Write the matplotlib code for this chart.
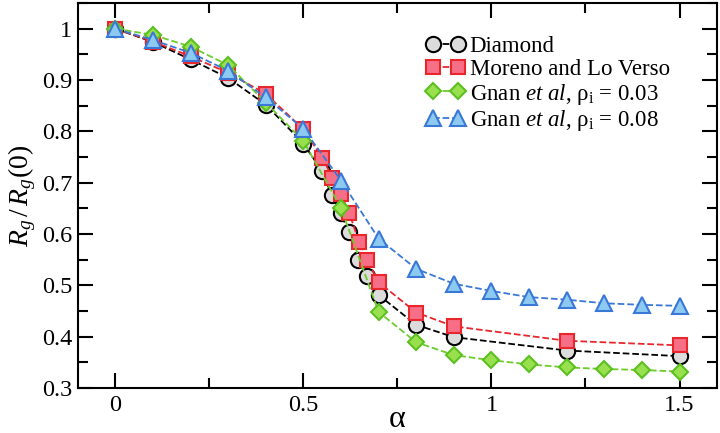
import matplotlib
matplotlib.use("Agg")
import matplotlib.pyplot as plt
from matplotlib.ticker import MultipleLocator, FuncFormatter

plt.rcParams["font.family"] = ["Liberation Serif", "DejaVu Serif"]
plt.rcParams["mathtext.fontset"] = "custom"
plt.rcParams["mathtext.rm"] = "Liberation Serif"
plt.rcParams["mathtext.it"] = "Liberation Serif:italic"

# ---- data ----
alpha_dia = [0, 0.1, 0.2, 0.3, 0.4, 0.5, 0.55, 0.575, 0.6, 0.62, 0.645, 0.67, 0.7, 0.8, 0.9, 1.2, 1.5]
rg_dia = [1.0, 0.974, 0.940, 0.904, 0.852, 0.776, 0.722, 0.676, 0.640, 0.603, 0.549, 0.519, 0.481, 0.423, 0.399, 0.373, 0.362]

alpha_mor = [0, 0.1, 0.2, 0.3, 0.4, 0.5, 0.55, 0.577, 0.6, 0.622, 0.648, 0.67, 0.7, 0.8, 0.9, 1.2, 1.5]
rg_mor = [1.0, 0.975, 0.946, 0.914, 0.873, 0.804, 0.749, 0.710, 0.677, 0.641, 0.584, 0.549, 0.506, 0.447, 0.420, 0.392, 0.383]

alpha_g03 = [0, 0.1, 0.2, 0.3, 0.4, 0.5, 0.6, 0.7, 0.8, 0.9, 1.0, 1.1, 1.2, 1.3, 1.4, 1.5]
rg_g03 = [1.0, 0.988, 0.965, 0.929, 0.856, 0.781, 0.651, 0.448, 0.389, 0.364, 0.354, 0.346, 0.340, 0.337, 0.335, 0.332]

alpha_g08 = [0, 0.1, 0.2, 0.3, 0.4, 0.5, 0.6, 0.7, 0.8, 0.9, 1.0, 1.1, 1.2, 1.3, 1.4, 1.5]
rg_g08 = [1.0, 0.978, 0.953, 0.918, 0.866, 0.805, 0.704, 0.591, 0.532, 0.503, 0.489, 0.477, 0.472, 0.465, 0.462, 0.460]

labels = ["Diamond", "Moreno and Lo Verso",
          r"Gnan $\mathit{et\ al}$, ρ$_{\mathrm{i}}$ = 0.03",
          r"Gnan $\mathit{et\ al}$, ρ$_{\mathrm{i}}$ = 0.08"]

fig = plt.figure(figsize=(7.2, 4.33), dpi=100)
ax = fig.add_axes([0.108, 0.104, 0.888, 0.889])

ax.plot(alpha_dia, rg_dia, ls="--", color="black", lw=1.3, marker="o", ms=11,
        mfc="#dcdcdc", mec="black", mew=1.5, label=labels[0], zorder=3)
ax.plot(alpha_mor, rg_mor, ls="--", color="#e8262c", lw=1.3, marker="s", ms=10.5,
        mfc="#f76f86", mec="#e8262c", mew=1.5, label=labels[1], zorder=4)
ax.plot(alpha_g03, rg_g03, ls="--", color="#6ccc2c", lw=1.3, marker="D", ms=8.5,
        mfc="#98e04e", mec="#5cbf22", mew=1.5, label=labels[2], zorder=5)
ax.plot(alpha_g08, rg_g08, ls="--", color="#3a78d8", lw=1.3, marker="^", ms=12,
        mfc="#8ccaf2", mec="#3a78d8", mew=1.5, label=labels[3], zorder=6)

ax.set_xlim(-0.1, 1.6)
ax.set_ylim(0.3, 1.05)
ax.xaxis.set_major_locator(MultipleLocator(0.5))
ax.xaxis.set_minor_locator(MultipleLocator(0.25))
ax.yaxis.set_major_locator(MultipleLocator(0.1))
ax.yaxis.set_minor_locator(MultipleLocator(0.05))
fmt = FuncFormatter(lambda v, p: "%g" % round(v, 3))
ax.xaxis.set_major_formatter(fmt)
ax.yaxis.set_major_formatter(fmt)
ax.tick_params(which="both", direction="in", top=True, right=True, width=1.5, labelsize=17.5)
ax.tick_params(which="major", length=11)
ax.tick_params(which="minor", length=7)
ax.tick_params(axis="x", pad=5)
ax.tick_params(axis="y", pad=4)
for s in ax.spines.values():
    s.set_linewidth(1.5)

ax.set_xlabel("α", fontsize=23, va="center")
ax.xaxis.set_label_coords(0.5, -0.083)
ax.set_ylabel(r"$R_g\,/\,R_g\mathrm{(0)}$", fontsize=20, labelpad=3)

ax.legend(loc="upper left", bbox_to_anchor=(0.545, 0.915), frameon=False, fontsize=16.5,
          numpoints=2, handlelength=1.7, handletextpad=0.2, labelspacing=0.08,
          borderaxespad=0, borderpad=0)

fig.savefig("out.png", dpi=100)
